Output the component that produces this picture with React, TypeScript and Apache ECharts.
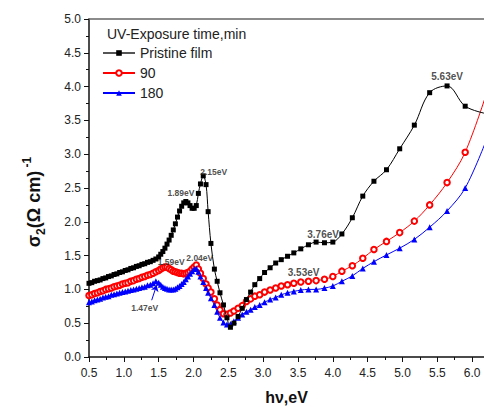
import React, { useEffect, useRef } from "react";
import * as echarts from "echarts";

const energy = [
  0.5, 0.54, 0.58, 0.62, 0.66, 0.7, 0.74, 0.78, 0.82, 0.86, 0.9, 0.94, 0.98, 1.02, 1.06, 1.1, 1.14, 1.18, 1.22, 1.26, 1.3, 1.34, 1.38, 1.42, 1.46, 1.5,
  1.53, 1.56, 1.59, 1.62, 1.65, 1.68, 1.71, 1.74, 1.77, 1.8, 1.83, 1.86, 1.89, 1.92, 1.95, 1.98, 2.01, 2.04, 2.07, 2.1,
  2.14, 2.18, 2.21, 2.25, 2.3, 2.34, 2.38, 2.43, 2.48, 2.53, 2.58, 2.64, 2.7, 2.76, 2.82, 2.88, 2.95, 3.02, 3.1, 3.18, 3.26, 3.35, 3.44, 3.54, 3.65, 3.76, 3.88, 4.0, 4.13, 4.28, 4.43, 4.59, 4.77, 4.96, 5.17, 5.39, 5.64, 5.9, 6.2,
];

const pristine = [
  1.09, 1.1, 1.12, 1.13, 1.14, 1.16, 1.17, 1.19, 1.2, 1.22, 1.23, 1.25, 1.26, 1.28, 1.29, 1.31, 1.32, 1.34, 1.35, 1.37, 1.38, 1.4, 1.41, 1.43, 1.45, 1.48,
  1.52, 1.56, 1.61, 1.67, 1.73, 1.8, 1.88, 1.97, 2.07, 2.16, 2.23, 2.28, 2.3, 2.28, 2.24, 2.2, 2.2, 2.24, 2.42, 2.56,
  2.68, 2.55, 2.15, 1.68, 1.3, 1.12, 0.95, 0.77, 0.58, 0.44, 0.5, 0.6, 0.72, 0.85, 0.96, 1.07, 1.16, 1.25, 1.32, 1.39, 1.44, 1.49, 1.54, 1.6, 1.66, 1.7, 1.69, 1.7, 1.82, 2.06, 2.38, 2.6, 2.77, 3.08, 3.43, 3.91, 4.01, 3.71, 3.6,
];

const uv90 = [
  0.91, 0.92, 0.94, 0.95, 0.97, 0.98, 1.0, 1.01, 1.02, 1.04, 1.05, 1.06, 1.08, 1.09, 1.1, 1.12, 1.13, 1.15, 1.16, 1.18, 1.19, 1.21, 1.22, 1.24, 1.26, 1.28,
  1.3, 1.32, 1.33, 1.33, 1.31, 1.29, 1.27, 1.26, 1.25, 1.24, 1.24, 1.23, 1.24, 1.25, 1.27, 1.3, 1.33, 1.36, 1.3, 1.24,
  1.16, 1.08, 1.02, 0.96, 0.86, 0.77, 0.7, 0.64, 0.63, 0.65, 0.68, 0.72, 0.76, 0.82, 0.86, 0.9, 0.92, 0.96, 0.99, 1.02, 1.05, 1.07, 1.09, 1.11, 1.12, 1.13, 1.15, 1.19, 1.27, 1.35, 1.46, 1.59, 1.71, 1.84, 2.01, 2.25, 2.58, 3.03, 3.88,
];

const uv180 = [
  0.81, 0.82, 0.84, 0.85, 0.86, 0.88, 0.89, 0.9, 0.92, 0.93, 0.94, 0.95, 0.96, 0.97, 0.98, 0.99, 1.0, 1.01, 1.02, 1.03, 1.04, 1.06, 1.07, 1.09, 1.12, 1.1,
  1.07, 1.04, 1.02, 1.01, 1.0, 1.0, 1.0, 1.01, 1.03, 1.05, 1.08, 1.11, 1.15, 1.19, 1.23, 1.27, 1.3, 1.31, 1.26, 1.19,
  1.11, 1.02, 0.95, 0.87, 0.77, 0.67, 0.58, 0.51, 0.48, 0.49, 0.53, 0.58, 0.63, 0.67, 0.7, 0.74, 0.77, 0.81, 0.85, 0.88, 0.92, 0.95, 0.97, 0.99, 1.0, 1.0, 1.02, 1.05, 1.12, 1.2, 1.31, 1.41, 1.51, 1.61, 1.74, 1.92, 2.16, 2.5, 3.2,
];

const seriesNames = ["Pristine film", "90", "180"];
const legendTitle = "UV-Exposure time,min";

// peak annotations: text, anchor energy, anchor value
const annoText = ["1.89eV", "2.15eV", "1.59eV", "2.04eV", "1.47eV", "3.53eV", "3.76eV", "5.63eV"];
const annoX = [1.82, 2.29, 1.68, 2.09, 1.3, 3.58, 3.86, 5.64];
const annoY = [2.42, 2.73, 1.41, 1.46, 0.73, 1.25, 1.81, 4.15];
const annoBig = [false, false, false, false, false, true, true, true];

// arrow from the 1.47 eV label to the peak
const arrowFrom = [1.4, 0.84];
const arrowTo = [1.47, 1.06];

const xTicks = { min: 0.5, max: 6.17, interval: 0.5 };
const yTicks = { min: 0, max: 5, interval: 0.5 };

const FONT = "'Liberation Sans', Arial, sans-serif";

export default function App() {
  const ref = useRef<HTMLDivElement>(null);
  useEffect(() => {
    if (!ref.current) return;
    const chart = echarts.init(ref.current, undefined, { renderer: "svg" });
    const pair = (arr: number[]) => energy.map((e, i) => [e, arr[i]]);
    const option: any = {
      animation: false,
      backgroundColor: "#fff",
      textStyle: { fontFamily: FONT },
      title: {
        text: legendTitle,
        left: 102,
        top: 22,
        textStyle: { fontFamily: FONT, fontSize: 14, fontWeight: "normal", color: "#222" },
      },
      legend: {
        data: [
          { name: seriesNames[0], lineStyle: { color: "#555" } },
          { name: seriesNames[1] },
          { name: seriesNames[2] },
        ],
        orient: "vertical",
        left: 97,
        top: 41,
        itemWidth: 32,
        itemHeight: 7,
        itemGap: 6,
        textStyle: { fontFamily: FONT, fontSize: 14, color: "#222" },
      },
      grid: { left: 89, right: 0, top: 19, bottom: 51, outerBoundsMode: "none", containLabel: false },
      xAxis: [
        {
          type: "value",
          min: xTicks.min,
          max: xTicks.max,
          interval: xTicks.interval,
          name: "hν,eV",
          nameLocation: "middle",
          nameGap: 32,
          nameTextStyle: { fontFamily: FONT, fontSize: 16, fontWeight: "bold", color: "#111" },
          axisLine: { lineStyle: { color: "#111", width: 1.5 } },
          axisTick: { inside: false, length: 5, lineStyle: { color: "#111", width: 1 } },
          minorTick: { show: true, splitNumber: 2, length: 3, lineStyle: { color: "#111", width: 1 } },
          splitLine: { show: false },
          axisLabel: {
            showMaxLabel: false,
            margin: 10,
            fontFamily: FONT,
            fontSize: 12,
            color: "#222",
            formatter: (v: number) => (Math.abs(v * 2 - Math.round(v * 2)) < 1e-6 ? v.toFixed(1) : ""),
          },
        },
        {
          type: "value",
          position: "top",
          min: xTicks.min,
          max: xTicks.max,
          axisLine: { show: true, lineStyle: { color: "#666", width: 1.5 } },
          axisTick: { show: false },
          axisLabel: { show: false },
          splitLine: { show: false },
        },
      ],
      yAxis: {
        type: "value",
        min: yTicks.min,
        max: yTicks.max,
        interval: yTicks.interval,
        axisLine: { show: true, lineStyle: { color: "#111", width: 1.5 } },
        axisTick: { show: true, inside: false, length: 5, lineStyle: { color: "#111", width: 1 } },
        minorTick: { show: true, splitNumber: 2, length: 3, lineStyle: { color: "#111", width: 1 } },
        splitLine: { show: false },
        axisLabel: {
          margin: 8,
          fontFamily: FONT,
          fontSize: 12,
          color: "#222",
          formatter: (v: number) => v.toFixed(1),
        },
      },
      graphic: [
        {
          type: "text",
          x: 34,
          y: 202,
          rotation: Math.PI / 2,
          style: {
            text: "{a|σ}{s|2}{a|(Ω cm)}{p| -1}",
            align: "center",
            verticalAlign: "middle",
            fill: "#111",
            rich: {
              a: { fontFamily: FONT, fontSize: 18, fontWeight: "bold", fill: "#111", lineHeight: 26, verticalAlign: "middle" },
              s: { fontFamily: FONT, fontSize: 12, fontWeight: "bold", fill: "#111", verticalAlign: "bottom", lineHeight: 26, padding: [8, 0, 0, 0] },
              p: { fontFamily: FONT, fontSize: 12, fontWeight: "bold", fill: "#111", verticalAlign: "top", lineHeight: 26, padding: [0, 0, 8, 0] },
            },
          },
        },
      ],
      series: [
        {
          name: seriesNames[0],
          type: "line",
          data: pair(pristine),
          smooth: 0.35,
          symbol: "rect",
          symbolSize: 5,
          showAllSymbol: true,
          lineStyle: { color: "#000", width: 1 },
          itemStyle: { color: "#000" },
          z: 4,
        },
        {
          name: seriesNames[1],
          type: "line",
          data: pair(uv90),
          smooth: 0.35,
          symbol: "emptyCircle",
          symbolSize: 5.5,
          showAllSymbol: true,
          lineStyle: { color: "#ff0000", width: 1 },
          itemStyle: { color: "#ff0000", borderWidth: 1 },
          z: 3,
        },
        {
          name: seriesNames[2],
          type: "line",
          data: pair(uv180),
          smooth: 0.35,
          symbol: "triangle",
          symbolSize: 6,
          showAllSymbol: true,
          lineStyle: { color: "#0000ff", width: 1 },
          itemStyle: { color: "#0000ff" },
          z: 3,
          markLine: {
            silent: true,
            symbol: ["none", "arrow"],
            symbolSize: 6,
            label: { show: false },
            lineStyle: { color: "#0000ff", width: 1, type: "solid" },
            data: [[{ coord: arrowFrom }, { coord: arrowTo }]],
          },
        },
        {
          name: "labels",
          type: "scatter",
          silent: true,
          symbolSize: 1,
          itemStyle: { color: "rgba(0,0,0,0)" },
          z: 6,
          data: annoText.map((t, i) => ({
            name: t,
            value: [annoX[i], annoY[i]],
            label: {
              show: true,
              position: "inside",
              formatter: t,
              fontFamily: FONT,
              fontWeight: "bold",
              fontSize: annoBig[i] ? 10 : 8.5,
              color: "#222",
            },
          })),
        },
      ],
    };
    chart.setOption(option);
    return () => chart.dispose();
  }, []);
  return <div ref={ref} style={{ position: "fixed", left: 0, top: 0, width: 484, height: 408 }} />;
}
